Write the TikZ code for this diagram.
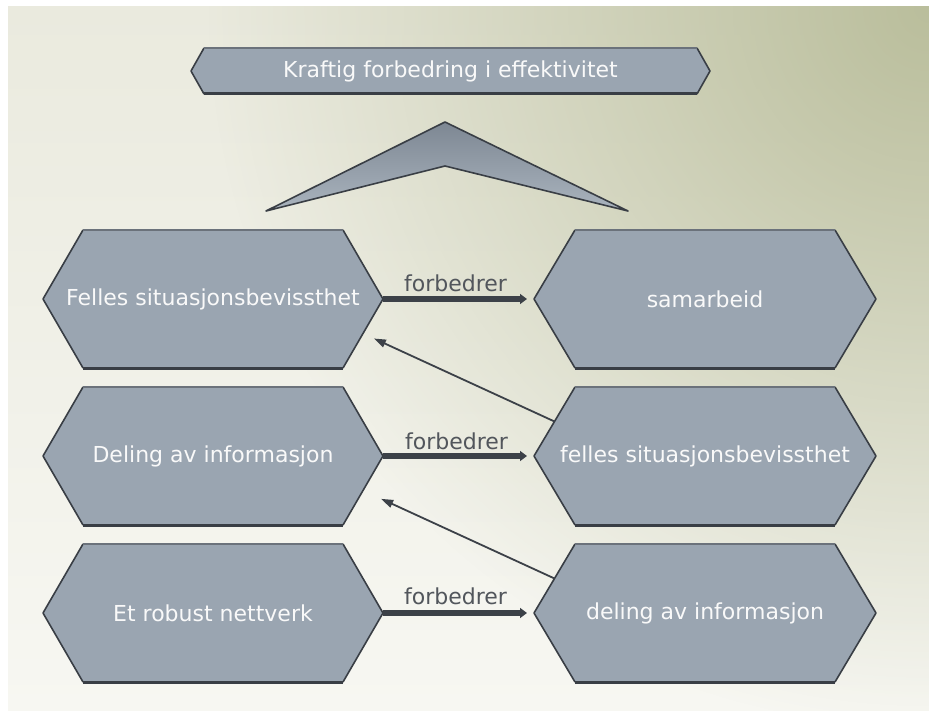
\documentclass[tikz,border=0pt]{standalone}
\usepackage{fontspec}
\setmainfont{DejaVu Sans}
\usetikzlibrary{arrows.meta,calc,fadings}

\definecolor{hexfill}{HTML}{9AA5B1}
\definecolor{hexline}{HTML}{393E45}
\definecolor{hextopline}{HTML}{6B727B}
\definecolor{arrowcol}{HTML}{3C4148}
\definecolor{labelcol}{HTML}{52565C}
\definecolor{bgtop}{HTML}{EAEADE}
\definecolor{bgbottom}{HTML}{F7F7F2}
\definecolor{bgolive}{HTML}{BABE9C}
\definecolor{chevtop}{HTML}{7D8793}
\definecolor{chevbot}{HTML}{AAB4BE}

% radial fading: opaque in the middle, clear at the rim
\tikzfading[name=oliveglow, inner color=transparent!0, outer color=transparent!100]

\tikzset{
  hexedge/.style={draw=hexline, line width=1.6pt, line join=round},
  hextopedge/.style={draw=hextopline, line width=2pt},
  hexbase/.style={draw=hexline, line width=3pt},
  hextext/.style={text=white!95!gray, font=\fontsize{22}{26}\selectfont, inner sep=0pt},
  relabel/.style={text=labelcol, font=\fontsize{22}{26}\selectfont, inner sep=0pt},
  thickarrow/.style={draw=arrowcol, line width=5.5pt, -{Triangle[length=7pt,width=10pt]}},
  thinarrow/.style={draw=arrowcol, line width=1.8pt, -{Triangle[length=12pt,width=8pt]}},
}

% hexagon box: name, centre x, centre y, half width, half height, tip inset, text
\newcommand\hexbox[7]{%
  \path (#2-#4,#3) coordinate (#1-w)
        (#2-#4+#6,#3-#5) coordinate (#1-nw)
        (#2+#4-#6,#3-#5) coordinate (#1-ne)
        (#2+#4,#3) coordinate (#1-e)
        (#2+#4-#6,#3+#5) coordinate (#1-se)
        (#2-#4+#6,#3+#5) coordinate (#1-sw);
  \fill[hexfill] (#1-w) -- (#1-nw) -- (#1-ne) -- (#1-e) -- (#1-se) -- (#1-sw) -- cycle;
  \draw[hexedge] (#1-nw) -- (#1-w) -- (#1-sw) (#1-ne) -- (#1-e) -- (#1-se);
  \draw[hextopedge] (#1-nw) -- (#1-ne);
  \draw[hexbase] (#1-sw) -- (#1-se);
  \node[hextext] (#1) at (#2,#3) {#7};
}

\begin{document}
\begin{tikzpicture}[x=1pt,y=-1pt]
\useasboundingbox (0,0) rectangle (929,711);
\fill[white] (0,0) rectangle (929,711);

% background: pale cream with an olive glow in the upper right corner
\begin{scope}
  \clip (8,7) rectangle (929,711);
  \shade[top color=bgtop, bottom color=bgbottom] (8,7) rectangle (929,711);
  \fill[bgolive, path fading=oliveglow] (929,7) circle (720pt);
\end{scope}

% headline
\hexbox{top}{450.5}{71}{259.5}{23}{13}{Kraftig forbedring i effektivitet}

% chevron
\shade[top color=chevtop, bottom color=chevbot]
  (266,211) -- (445,122) -- (628,211) -- (445,166) -- cycle;
\draw[hexedge] (266,211) -- (445,122) -- (628,211) -- (445,166) -- cycle;

% left column
\hexbox{l1}{213}{299}{170}{69}{40}{Felles situasjonsbevissthet}
\hexbox{l2}{213}{456}{170}{69}{40}{Deling av informasjon}
\hexbox{l3}{213}{613}{170}{69}{40}{Et robust nettverk}

% right column
\hexbox{r1}{705}{299}{171}{69}{41}{samarbeid}
\hexbox{r2}{705}{456}{171}{69}{41}{felles situasjonsbevissthet}
\hexbox{r3}{705}{613}{171}{69}{41}{deling av informasjon}

% "forbedrer" relations
\draw[thickarrow, shorten >=7pt] (l1-e) -- (r1-w)
  node[relabel, midway, anchor=base, xshift=-3pt, yshift=7pt] {forbedrer};
\draw[thickarrow, shorten >=7pt] (l2-e) -- (r2-w)
  node[relabel, midway, anchor=base, xshift=-2pt, yshift=7pt] {forbedrer};
\draw[thickarrow, shorten >=7pt] (l3-e) -- (r3-w)
  node[relabel, midway, anchor=base, xshift=-3pt, yshift=9pt] {forbedrer};

% feedback arrows
\draw[thinarrow, shorten >=12pt] ($(r2-w)!0.5!(r2-nw)$) -- ($(l1-e)!0.5!(l1-se)$);
\draw[thinarrow, shorten >=20pt] ($(r3-w)!0.5!(r3-nw)$) -- ($(l2-e)!0.5!(l2-se)$);
\end{tikzpicture}
\end{document}
